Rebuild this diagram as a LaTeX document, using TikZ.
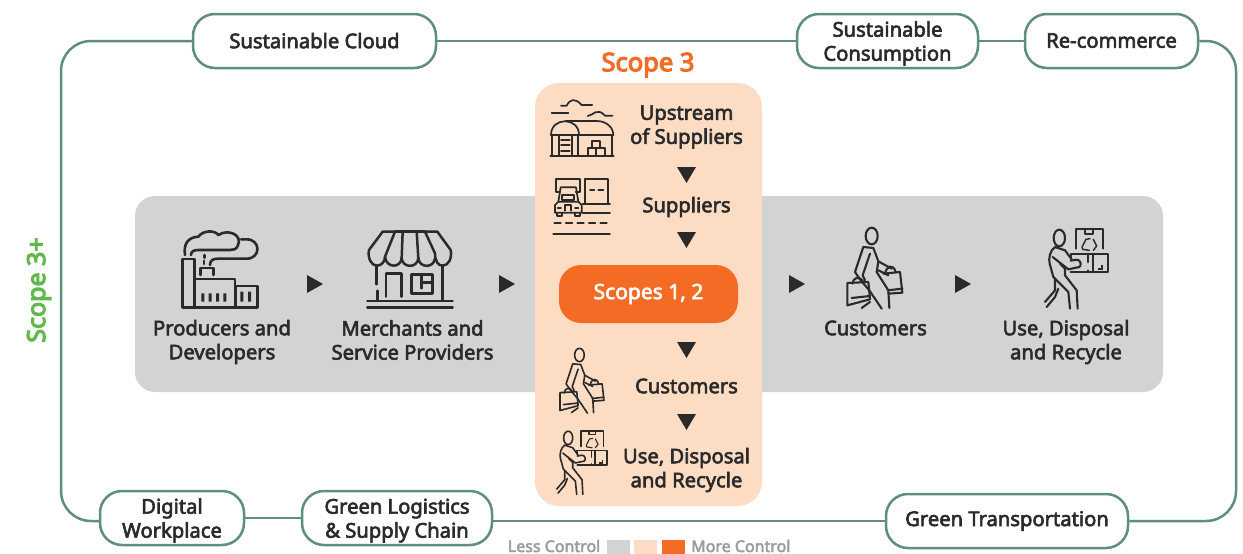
\documentclass[tikz,border=0pt]{standalone}
\usepackage{fontspec}
\setmainfont{Noto Sans}
\newfontfamily\medfont[FakeBold=3]{Noto Sans}
\newfontfamily\strongfont[FakeBold=4.5]{Noto Sans}
\definecolor{ink}{HTML}{2B2A2B}
\definecolor{frame}{HTML}{5E8E7C}
\definecolor{greyband}{HTML}{D1D3D4}
\definecolor{peach}{HTML}{FDDCC4}
\definecolor{orangeb}{HTML}{F36B25}
\definecolor{greenb}{HTML}{62B84C}
\definecolor{legendtxt}{HTML}{9A9C9E}
\newcommand{\twolines}[2]{\raisebox{-8pt}[0pt][0pt]{\begin{tabular}{@{}c@{}}#1\\[0pt]#2\end{tabular}}}
\tikzset{
 tag/.style={draw=frame,line width=2.5pt,fill=white,rounded corners=22pt,align=center,inner sep=0pt,
   font=\fontsize{20.2}{24}\selectfont\medfont,text=ink},
 lbl/.style={align=center,inner sep=0pt,font=\fontsize{20.2}{24}\selectfont\medfont,text=ink},
 tri/.style={fill=ink,draw=none},
 ico/.style={draw=ink,line width=#1,line cap=round,line join=round},
 ico/.default=2.1pt,
 legendbox/.style={minimum width=23pt,minimum height=14pt,inner sep=0pt,draw=none},
 legendlbl/.style={inner sep=0pt,font=\fontsize{16}{18}\selectfont\medfont,text=legendtxt},
}
\newcommand{\tright}[1]{\fill[tri] (#1-8,275) -- (#1+8,284) -- (#1-8,293) -- cycle;}
\newcommand{\tdown}[1]{\fill[tri] (677,#1) -- (696,#1) -- (686.5,#1+16) -- cycle;}
\newcommand{\shopperpaths}[1]{
 \begin{scope}[ico=#1]
 \draw (95,42) ellipse (18 and 25);
 \draw (70,75) -- (100,78) -- (115,118) -- (155,140);
 \draw (70,75) -- (45,150) -- (62,175) -- (88,205) -- (125,260);
 \draw (90,95) -- (68,160) -- (75,175);
 \draw (115,118) -- (110,150) -- (145,205) -- (148,258);
 \draw (115,145) -- (145,160);
 \draw (22,183) -- (85,180) -- (90,232) -- (22,250) -- cycle;
 \draw (35,228) -- (90,222);
 \draw (38,185) .. controls (40,165) and (58,160) .. (70,180);
 \draw (65,258) -- (90,240);
 \draw (130,155) -- (180,150) -- (187,212) -- (145,215);
 \draw (143,205) -- (187,200);
 \draw (135,155) .. controls (140,130) and (160,125) .. (167,150);
 \end{scope}}
\newcommand{\carrierpaths}[1]{
 \begin{scope}[ico=#1]
 \draw (58,48) ellipse (17 and 25);
 \draw (107,80) -- (107,22) -- (190,22) -- (190,80);
 \draw (135,22) -- (135,35) -- (160,35) -- (160,22);
 \draw (92,108) -- (92,95) -- (203,95) -- (203,150) -- (92,150);
 \draw (145,95) -- (145,120); \draw (145,145) -- (145,150);
 \draw (158,95) -- (158,150);
 \draw[line width=.7*#1] (128,72) -- (138,52) -- (150,50);
 \draw[line width=.7*#1] (160,52) -- (170,72) -- (160,85);
 \draw[line width=.7*#1] (148,85) -- (128,82) -- (126,74);
 \fill[ink] (175,138) rectangle (190,145); \fill[ink] (184,129) rectangle (190,138);
 \draw (45,75) -- (75,85) -- (95,112);
 \draw (45,75) .. controls (30,85) and (25,110) .. (29,125) -- (40,165);
 \draw (38,105) -- (85,142) -- (118,135) .. controls (126,130) and (122,113) .. (110,113) -- (92,116);
 \draw (60,125) -- (75,140) -- (75,160) -- (110,205) -- (113,260);
 \draw (40,165) -- (85,210) -- (90,260);
 \draw (45,170) -- (45,205) -- (15,240);
 \draw (55,200) -- (45,225) -- (20,255);
 \end{scope}}
\begin{document}
\begin{tikzpicture}[x=1pt,y=-1pt]
\useasboundingbox (0,0) rectangle (1243,554);
% bands
\fill[greyband,rounded corners=20pt] (135,196) rectangle (1163,392);
\fill[peach,rounded corners=24pt] (535,83) rectangle (762,506);
% tags
\node[tag,minimum width=243pt,minimum height=54pt] (cloud) at (314.5,41) {\raisebox{1pt}{Sustainable Cloud}};
\node[tag,minimum width=181pt,minimum height=54pt] (consume) at (887.5,41) {\twolines{Sustainable}{Consumption}};
\node[tag,minimum width=173pt,minimum height=54pt] (recomm) at (1111.5,41) {\raisebox{1pt}{Re-commerce}};
\node[tag,minimum width=144pt,minimum height=54pt] (digital) at (172,518) {\twolines{Digital}{Workplace}};
\node[tag,minimum width=190pt,minimum height=54pt] (logistics) at (397,518) {\twolines{Green Logistics}{\&\ Supply Chain}};
\node[tag,minimum width=242pt,minimum height=54pt] (transport) at (1007,521) {\raisebox{-1pt}{Green Transportation}};
% frame connectors
\coordinate (tl) at (61,41); \coordinate (bl) at (61,521);
\coordinate (tr) at (1236,41); \coordinate (br) at (1236,521);
\begin{scope}[draw=frame,line width=2.5pt]
\draw[rounded corners=30pt] (cloud.west) -- (tl) -- (bl) -- (digital.west |- bl);
\draw (cloud.east) -- (consume.west);
\draw (consume.east) -- (recomm.west);
\draw[rounded corners=30pt] (recomm.east) -- (tr) -- (br) -- (transport.east);
\draw (digital.east) -- (logistics.west);
\draw (logistics.east |- transport.west) -- (transport.west);
\end{scope}
% orange box
\node[fill=orangeb,rounded corners=22pt,minimum width=179pt,minimum height=58pt,inner sep=0pt,text=white,
  font=\fontsize{21}{24}\selectfont\medfont] (scopes) at (648.5,294) {\raisebox{-4pt}{Scopes 1, 2}};
% scope titles
\node[inner sep=0pt,text=orangeb,font=\fontsize{25.5}{28}\selectfont\strongfont] (s3) at (648,65) {Scope 3};
\node[inner sep=0pt,text=greenb,rotate=90,font=\fontsize{25}{28}\selectfont\strongfont] (s3p) at (39,290) {Scope 3+};
% labels
\node[lbl] (prod) at (222,342) {Producers and\\Developers};
\node[lbl] (merch) at (412.5,340) {Merchants and\\Service Providers};
\node[lbl] (cust) at (875.5,328) {Customers};
\node[lbl] (use) at (1066,342) {Use, Disposal\\and Recycle};
\node[lbl] (up) at (686.5,127) {Upstream\\of Suppliers};
\node[lbl] (sup) at (686.5,207) {Suppliers};
\node[lbl] (cust2) at (686.5,386) {Customers};
\node[lbl] (use2) at (686.5,470) {Use, Disposal\\and Recycle};
% triangles
\tright{315}\tright{507}\tright{797}\tright{963}
\tdown{167}\tdown{232}\tdown{342}\tdown{414}
% factory
\begin{scope}[shift={(135,210)},scale=1/3,ico=2.6pt]
\draw (178,292) -- (143,292) -- (143,147) -- (178,147) -- (178,292) -- (367,292) -- (367,228) -- (303,228) -- (303,292);
\draw (178,207) -- (300,207) -- (300,292);
\draw (197,195) -- (197,174) -- (235,174) -- (235,195);
\draw (207,162) -- (207,152); \draw (209,143) -- (209,135);
\draw (225,165) .. controls (225,150) and (235,146) .. (250,146) -- (335,146) .. controls (378,146) and (378,88) .. (335,88) -- (318,88);
\draw (150,135) .. controls (145,100) and (160,82) .. (190,80) .. controls (205,60) and (240,60) .. (250,75) .. controls (280,55) and (325,75) .. (308,108) .. controls (304,118) and (295,120) .. (285,120) -- (190,120) .. controls (175,120) and (168,125) .. (168,135);
\fill[ink] (199,250) rectangle (208,275) (221,250) rectangle (230,275) (243,250) rectangle (252,275) (265,250) rectangle (274,275);
\fill[ink] (316,245) rectangle (325,275) (339,245) rectangle (348,275);
\end{scope}
% shop
\begin{scope}[shift={(360,225)},scale=1/3,ico=2.5pt]
\draw (105,20) -- (68,20) -- (27,75) .. controls (22,100) and (35,122) .. (50,122) .. controls (65,122) and (75,110) .. (75,95);
\draw (105,20) -- (195,20);
\draw (195,20) -- (232,20) -- (272,75) .. controls (277,100) and (265,122) .. (248,122) .. controls (235,122) and (225,110) .. (225,85);
\draw (75,95) .. controls (78,130) and (122,130) .. (125,100);
\draw (125,100) .. controls (128,130) and (172,130) .. (175,100);
\draw (175,100) .. controls (178,130) and (222,130) .. (225,100);
\draw (105,20) -- (75,95); \draw (128,20) -- (125,100); \draw (170,20) -- (175,100); \draw (195,20) -- (225,85);
\draw (50,122) -- (50,178); \draw (52,197) -- (52,225);
\draw (248,122) -- (248,225);
\draw (78,215) -- (78,145) -- (125,145) -- (125,215);
\draw (155,148) rectangle (218,205);
\draw (185,148) -- (185,190); \draw (185,172) -- (218,172);
\draw (22,228) -- (278,228); \draw (22,247) -- (278,247);
\end{scope}
% warehouse
\begin{scope}[shift={(535,85)},scale=1/3,ico=1.7pt]
\draw (78,62) -- (95,62) .. controls (105,42) and (120,38) .. (140,60) -- (172,60);
\draw (50,85) -- (100,85);
\draw (158,93) .. controls (175,92) and (185,65) .. (210,92) -- (232,92);
\draw (46,212) -- (236,212);
\draw (50,212) -- (50,150) (130,212) -- (130,150);
\draw (48,150) .. controls (48,95) and (132,95) .. (132,150);
\draw (92,108) -- (185,108) .. controls (215,108) and (235,128) .. (235,150);
\draw (48,150) -- (235,150);
\draw (232,150) -- (232,212);
\draw (72,212) -- (72,150) (110,150) -- (110,212);
\draw (78,165) -- (104,165) (78,180) -- (104,180) (78,197) -- (104,197);
\draw (158,212) -- (158,190) -- (210,190) -- (210,212) (184,190) -- (184,212);
\draw (170,190) -- (170,168) -- (196,168) -- (196,190);
\end{scope}
% truck
\begin{scope}[shift={(545,170)},scale=1/3,ico=1.7pt]
\draw (45,65) -- (32,65) -- (32,28) -- (105,28) -- (105,65) -- (92,65);
\draw (120,100) -- (120,28) -- (188,28) -- (188,100);
\draw (135,60) -- (148,60) (160,60) -- (175,60);
\draw (113,103) -- (195,103);
\draw (113,128) -- (195,128);
\draw[dash pattern=on 6.5pt off 5pt] (28,160) -- (192,160);
\draw (25,192) -- (195,192);
\draw (40,95) -- (47,52) -- (93,52) -- (100,95);
\draw (52,75) rectangle (88,90);
\draw (40,95) -- (100,95) -- (110,105) -- (110,128) -- (30,128) -- (30,105) -- cycle;
\draw (35,128) -- (35,137) -- (50,137) -- (50,128);
\draw (90,128) -- (90,137) -- (105,137) -- (105,128);
\draw (60,122) -- (60,105) -- (78,105) -- (78,122);
\draw (38,113) -- (48,113) (90,113) -- (100,113);
\end{scope}
% people
\begin{scope}[shift={(840,222)},scale=1/3]\shopperpaths{2.1pt}\end{scope}
\begin{scope}[shift={(1040,222)},scale=1/3]\carrierpaths{2.1pt}\end{scope}
\begin{scope}[shift={(554.1,343.8)},scale=0.2667]\shopperpaths{1.6pt}\end{scope}
\begin{scope}[shift={(552.7,425.1)},scale=0.2667]\carrierpaths{1.6pt}\end{scope}
% legend
\node[legendlbl,anchor=east] (less) at (600.5,546) {Less Control};
\node[legendbox,fill=greyband] (lg1) at (618.5,547) {};
\node[legendbox,fill=peach] (lg2) at (645.5,547) {};
\node[legendbox,fill=orangeb] (lg3) at (673.5,547) {};
\node[legendlbl,anchor=west] (more) at (691,546) {More Control};
\end{tikzpicture}
\end{document}
